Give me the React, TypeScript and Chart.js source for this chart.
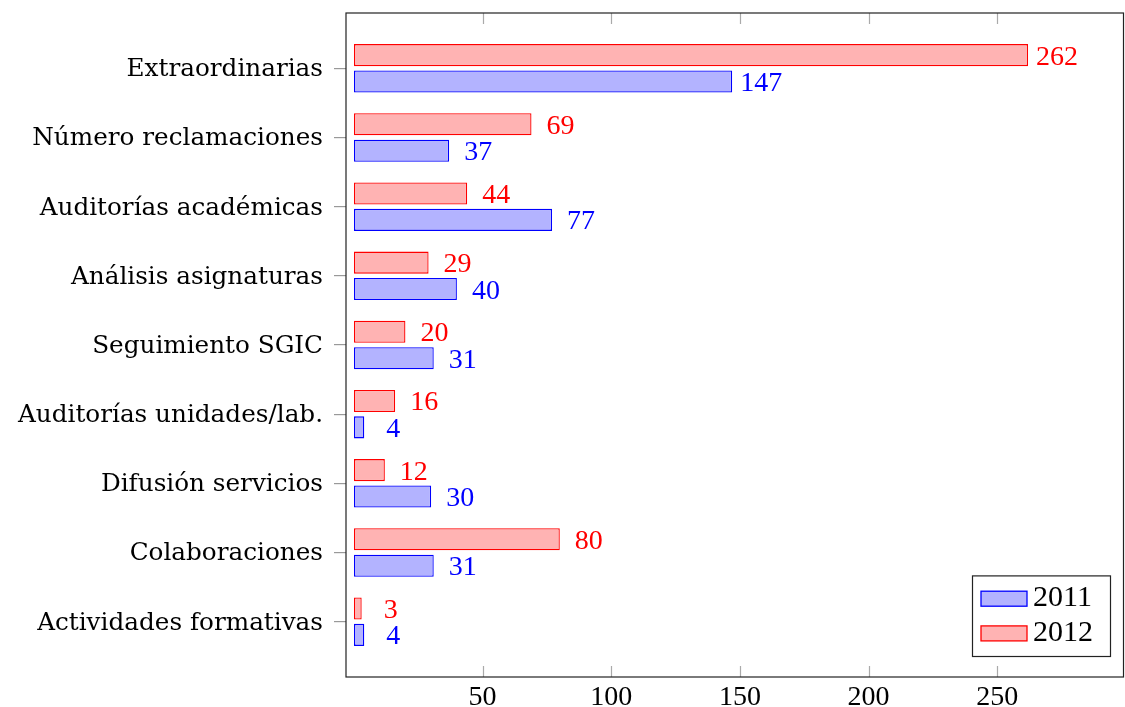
import React, { useEffect, useRef } from 'react';
import { Chart, registerables } from 'chart.js';

Chart.register(...registerables);

const categories = [
  'Extraordinarias',
  'Número reclamaciones',
  'Auditorías académicas',
  'Análisis asignaturas',
  'Seguimiento SGIC',
  'Auditorías unidades/lab.',
  'Difusión servicios',
  'Colaboraciones',
  'Actividades formativas',
];
const values2011 = [147, 37, 77, 40, 31, 4, 30, 31, 4];
const values2012 = [262, 69, 44, 29, 20, 16, 12, 80, 3];
const xTickValues = [50, 100, 150, 200, 250];
const seriesNames = ['2011', '2012'];

const BLUE = 'rgb(0,0,255)';
const BLUE_FILL = 'rgb(179,179,255)';
const RED = 'rgb(255,0,0)';
const RED_FILL = 'rgb(255,179,179)';

const NUM_FONT = '"Liberation Serif", "Times New Roman", serif';
const LABEL_FONT = '"DejaVu Serif", serif';

const framePlugin = {
  id: 'pgfFrame',
  afterDatasetsDraw(chart: any) {
    const ctx = chart.ctx;
    ctx.save();
    ctx.font = `28px ${NUM_FONT}`;
    ctx.textAlign = 'center';
    ctx.textBaseline = 'alphabetic';
    chart.data.datasets.forEach((ds: any, di: number) => {
      const meta = chart.getDatasetMeta(di);
      meta.data.forEach((bar: any, i: number) => {
        const v = ds.data[i].x;
        ctx.fillStyle = ds.borderColor;
        ctx.fillText(String(v), bar.x + 29, bar.y + 9.5);
      });
    });
    ctx.restore();
  },
  afterDraw(chart: any) {
    const ctx = chart.ctx;
    const { left, right, top, bottom } = chart.chartArea;
    const xs = chart.scales.x;
    ctx.save();
    // inner x tick marks (top and bottom)
    ctx.strokeStyle = '#aaaaaa';
    ctx.lineWidth = 1.2;
    xTickValues.forEach((t) => {
      const px = Math.round(xs.getPixelForValue(t)) + 0.5;
      ctx.beginPath();
      ctx.moveTo(px, top);
      ctx.lineTo(px, top + 11);
      ctx.moveTo(px, bottom);
      ctx.lineTo(px, bottom - 11);
      ctx.stroke();
    });
    // frame
    ctx.strokeStyle = '#222222';
    ctx.lineWidth = 1.2;
    ctx.strokeRect(left, top, right - left, bottom - top);

    // legend (south east)
    const bw = 138;
    const bh = 80.6;
    const bx = right - 13 - bw;
    const by = bottom - 20.5 - bh;
    ctx.fillStyle = '#ffffff';
    ctx.fillRect(bx, by, bw, bh);
    ctx.strokeStyle = '#222222';
    ctx.lineWidth = 1.2;
    ctx.strokeRect(bx, by, bw, bh);
    const entries = chart.data.datasets.slice().reverse();
    entries.forEach((ds: any, k: number) => {
      const sy = by + 15.3 + k * 34.7;
      ctx.fillStyle = ds.backgroundColor;
      ctx.fillRect(bx + 8.5, sy, 46, 15);
      ctx.strokeStyle = ds.borderColor;
      ctx.lineWidth = 1.3;
      ctx.strokeRect(bx + 8.5, sy, 46, 15);
      ctx.fillStyle = '#000000';
      ctx.font = `30px ${NUM_FONT}`;
      ctx.textAlign = 'left';
      ctx.textBaseline = 'alphabetic';
      ctx.fillText(ds.label, bx + 60.5, by + 30 + k * 35.3);
    });
    ctx.restore();
  },
};

export default function App() {
  const canvasRef = useRef<HTMLCanvasElement | null>(null);

  useEffect(() => {
    const canvas = canvasRef.current;
    if (!canvas) return;
    const chart = new Chart(canvas, {
      type: 'bar',
      data: {
        datasets: [
          {
            label: seriesNames[1],
            data: values2012.map((v, i) => ({ x: v, y: i })),
            backgroundColor: RED_FILL,
            borderColor: RED,
            borderWidth: 1.3,
            borderSkipped: false,
          },
          {
            label: seriesNames[0],
            data: values2011.map((v, i) => ({ x: v, y: i })),
            backgroundColor: BLUE_FILL,
            borderColor: BLUE,
            borderWidth: 1.3,
            borderSkipped: false,
          },
        ],
      },
      options: {
        indexAxis: 'y',
        responsive: false,
        animation: false,
        devicePixelRatio: 1,
        categoryPercentage: 0.764,
        barPercentage: 0.833,
        layout: { padding: { top: 13, right: 1.5, left: 0, bottom: 0 } },
        plugins: {
          legend: { display: false },
          tooltip: { enabled: false },
        },
        scales: {
          x: {
            type: 'linear',
            min: -3.1,
            max: 299.1,
            offset: false,
            afterBuildTicks: (scale: any) => {
              scale.ticks = xTickValues.map((v) => ({ value: v }));
            },
            afterFit: (scale: any) => {
              scale.height = 30;
            },
            grid: { display: false, drawTicks: false, tickLength: 0 },
            border: { display: false },
            ticks: {
              color: '#000000',
              font: { family: NUM_FONT, size: 28 },
              padding: 4,
              maxRotation: 0,
              autoSkip: false,
            },
          },
          y: {
            type: 'linear',
            reverse: true,
            min: -0.8,
            max: 8.8,
            offset: false,
            afterBuildTicks: (scale: any) => {
              scale.ticks = categories.map((_, i) => ({ value: i }));
            },
            afterFit: (scale: any) => {
              scale.width = 346;
              scale.paddingTop = 0;
              scale.paddingBottom = 0;
            },
            grid: {
              display: true,
              offset: false,
              drawOnChartArea: false,
              drawTicks: true,
              tickLength: 12,
              color: '#999999',
              lineWidth: 1.2,
            },
            border: { display: false },
            ticks: {
              color: '#000000',
              font: { family: LABEL_FONT, size: 24.7 },
              padding: 11,
              labelOffset: 1.5,
              autoSkip: false,
              callback: (value: any) => categories[value as number] ?? '',
            },
          },
        },
      },
      plugins: [framePlugin],
    } as any);
    return () => chart.destroy();
  }, []);

  return (
    <div style={{ position: 'absolute', left: 0, top: 0, width: 1125, height: 707, background: '#ffffff' }}>
      <canvas ref={canvasRef} width={1125} height={707} style={{ width: 1125, height: 707, display: 'block' }} />
    </div>
  );
}
